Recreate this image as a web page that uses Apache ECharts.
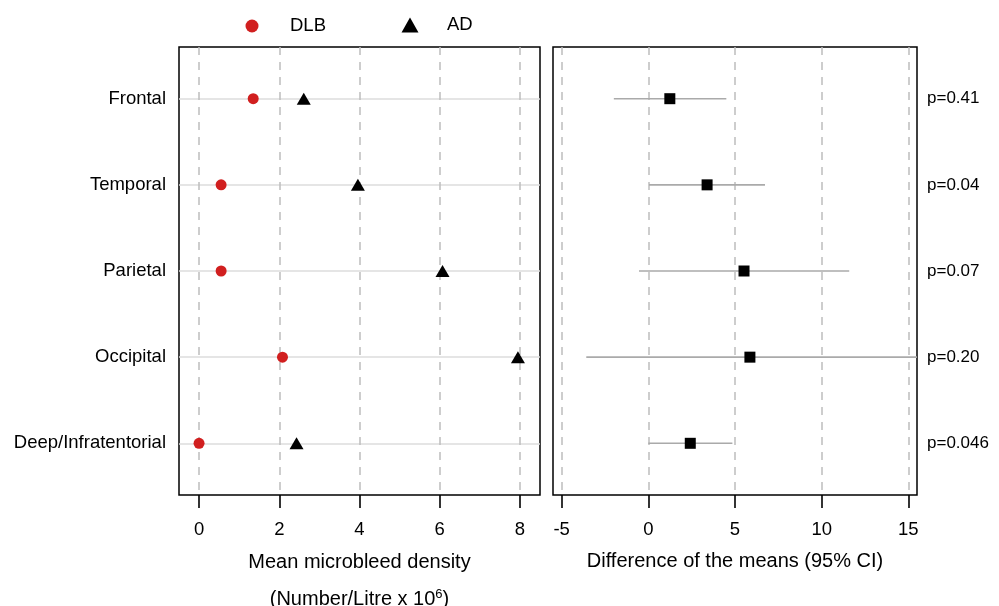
<!DOCTYPE html>
<html><head><meta charset="utf-8">
<script src="https://cdn.jsdelivr.net/npm/echarts@6/dist/echarts.min.js"></script>
<style>html,body{margin:0;padding:0;background:#fff}#c{width:999px;height:606px}</style>
</head><body><div id="c"></div>
<script>
const regions = ['Frontal', 'Temporal', 'Parietal', 'Occipital', 'Deep/Infratentorial'];
const dlbDensity = [1.35, 0.55, 0.55, 2.08, 0.0];
const adDensity = [2.61, 3.96, 6.07, 7.95, 2.43];
const diffMean = [1.24, 3.39, 5.52, 5.86, 2.42];
const diffLower = [-1.99, 0.04, -0.54, -3.58, 0.0];
const diffUpper = [4.50, 6.73, 11.59, 16.0, 4.85];
const pValues = ['p=0.41', 'p=0.04', 'p=0.07', 'p=0.20', 'p=0.046'];
const densityTicks = [0, 2, 4, 6, 8];
const diffTicks = [-5, 0, 5, 10, 15];

const FONT = 'Liberation Sans, Arial, Helvetica, sans-serif';
const RED = '#d11f1f';
const rowPos = regions.map((_, i) => i + 1);

const chart = echarts.init(document.getElementById('c'), null, {renderer: 'canvas'});

const dashed = {show: true, lineStyle: {color: '#bdbdbd', width: 1.5, type: [8, 7]}};
const tickStyle = {show: true, inside: false, length: 13, lineStyle: {color: '#000', width: 1.6}};

chart.setOption({
  backgroundColor: '#fff',
  animation: false,
  textStyle: {fontFamily: FONT, color: '#000'},
  legend: [
    {data: ['DLB'], left: 240.5, top: 11.5, itemWidth: 13, itemHeight: 13, icon: 'circle',
     itemStyle: {opacity: 1},
     textStyle: {fontSize: 18.5, color: '#000', fontFamily: FONT, padding: [0, 0, 0, 26.5]}},
    {data: ['AD'], left: 396.5, top: 10.5, itemWidth: 17, itemHeight: 15, icon: 'triangle',
     itemStyle: {opacity: 1},
     textStyle: {fontSize: 18.5, color: '#000', fontFamily: FONT, padding: [0, 0, 0, 23.5]}}
  ],
  grid: [
    {left: 179, right: 459, top: 47, bottom: 111, show: true, borderColor: '#000', borderWidth: 1.5,
     backgroundColor: 'transparent', outerBoundsMode: 'none', containLabel: false},
    {left: 553, right: 82, top: 47, bottom: 111, show: true, borderColor: '#000', borderWidth: 1.5,
     backgroundColor: 'transparent', outerBoundsMode: 'none', containLabel: false}
  ],
  xAxis: [
    {type: 'value', gridIndex: 0, min: -0.5, max: 8.5,
     axisLine: {show: false}, axisTick: Object.assign({customValues: densityTicks}, tickStyle),
     axisLabel: {customValues: densityTicks, fontSize: 18.5, color: '#000', margin: 25, fontFamily: FONT},
     splitLine: dashed,
     name: '{a|Mean microbleed density}\n{a|(Number/Litre x 10}{s|6}{a|)}',
     nameLocation: 'middle', nameGap: 49,
     nameTextStyle: {rich: {a: {fontSize: 20, lineHeight: 37, color: '#000', fontFamily: FONT},
                            s: {fontSize: 13, lineHeight: 37, color: '#000', fontFamily: FONT, padding: [0, 0, 10, 0]}}}},
    {type: 'value', gridIndex: 1, min: -5.5, max: 15.5,
     axisLine: {show: false}, axisTick: Object.assign({customValues: diffTicks}, tickStyle),
     axisLabel: {customValues: diffTicks, fontSize: 18.5, color: '#000', margin: 25, fontFamily: FONT},
     splitLine: dashed,
     name: 'Difference of the means (95% CI)', nameLocation: 'middle', nameGap: 56,
     nameTextStyle: {fontSize: 20, color: '#000', fontFamily: FONT}}
  ],
  yAxis: [
    {type: 'value', gridIndex: 0, min: 0.4, max: 5.6, inverse: true,
     axisLine: {show: false}, axisTick: {show: false, customValues: rowPos},
     axisLabel: {customValues: rowPos, fontSize: 18.5, color: '#000', margin: 13, fontFamily: FONT,
                 formatter: v => regions[Math.round(v) - 1] || ''},
     splitLine: {show: true, lineStyle: {color: '#dcdcdc', width: 1.5}}},
    {type: 'value', gridIndex: 1, min: 0.4, max: 5.6, inverse: true, position: 'right',
     axisLine: {show: false}, axisTick: {show: false, customValues: rowPos},
     axisLabel: {customValues: rowPos, fontSize: 17, color: '#000', margin: 10, align: 'left', fontFamily: FONT,
                 formatter: v => pValues[Math.round(v) - 1] || ''},
     splitLine: {show: false}}
  ],
  series: [
    {name: 'DLB', type: 'scatter', xAxisIndex: 0, yAxisIndex: 0, symbol: 'circle', symbolSize: 11,
     itemStyle: {color: RED, opacity: 1}, z: 5,
     data: dlbDensity.map((v, i) => [v, rowPos[i]])},
    {name: 'AD', type: 'scatter', xAxisIndex: 0, yAxisIndex: 0, symbol: 'triangle', symbolSize: [14, 12],
     itemStyle: {color: '#000', opacity: 1}, z: 5,
     data: adDensity.map((v, i) => [v, rowPos[i]])},
    {name: 'CI', type: 'custom', xAxisIndex: 1, yAxisIndex: 1, z: 3,
     encode: {x: [1, 2], y: 0},
     data: rowPos.map((p, i) => [p, diffLower[i], diffUpper[i]]),
     renderItem: function (params, api) {
       const y = api.value(0);
       const p1 = api.coord([api.value(1), y]);
       const p2 = api.coord([api.value(2), y]);
       const cs = params.coordSys;
       const pts = echarts.graphic.clipPointsByRect([p1, p2], {x: cs.x, y: cs.y, width: cs.width, height: cs.height});
       return {type: 'line', shape: {x1: pts[0][0], y1: pts[0][1], x2: pts[1][0], y2: pts[1][1]},
               style: {stroke: '#aaaaaa', lineWidth: 1.6}};
     }},
    {name: 'Diff', type: 'scatter', xAxisIndex: 1, yAxisIndex: 1, symbol: 'rect', symbolSize: 11,
     itemStyle: {color: '#000', opacity: 1}, z: 5,
     data: diffMean.map((v, i) => [v, rowPos[i]])}
  ]
});
</script></body></html>
